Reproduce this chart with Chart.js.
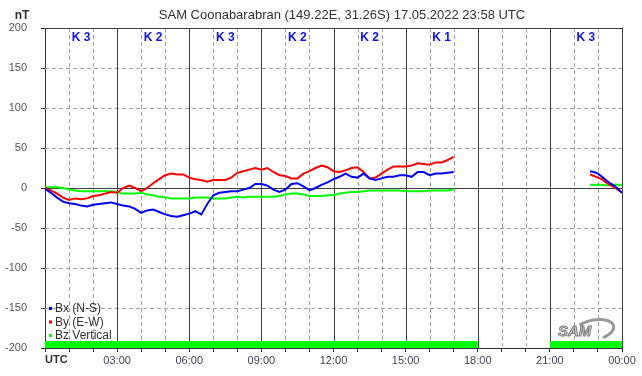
<!DOCTYPE html>
<html>
<head>
<meta charset="utf-8">
<script src="https://cdn.jsdelivr.net/npm/chart.js@4/dist/chart.umd.min.js"></script>
<style>
  html, body { margin: 0; padding: 0; background: #fff; }
  #wrap { width: 642px; height: 376px; }
</style>
</head>
<body>
<div id="wrap"><canvas id="chart" width="642" height="376"></canvas></div>
<script>
// hours UTC, first segment (00:00 - 17:00)
const hours1 = [0,0.25,0.5,0.75,1,1.25,1.5,1.75,2,2.25,2.5,2.75,3,3.25,3.5,3.75,4,4.25,4.5,4.75,5,5.25,5.5,5.75,6,6.25,6.5,6.75,7,7.25,7.5,7.75,8,8.25,8.5,8.75,9,9.25,9.5,9.75,10,10.25,10.5,10.75,11,11.25,11.5,11.75,12,12.25,12.5,12.75,13,13.25,13.5,13.75,14,14.25,14.5,14.75,15,15.25,15.5,15.75,16,16.25,16.5,16.75,17];
const bx1 = [-1,-6,-12,-17,-19,-20,-22,-23,-21,-20,-19,-18,-20,-22,-23,-26,-31,-28,-27,-30,-33,-35,-36,-34,-32,-29,-33,-20,-9,-6,-5,-4,-4,-2,0,5,5,3,-2,-5,-2,5,6,2,-3,0,4,7,11,14,18,14,13,18,12,10,12,14,14,16,16,14,20,20,16,18,18,19,20];
const by1 = [0,-3,-7,-12,-15,-13,-14,-13,-10,-9,-7,-5,-6,0,3,0,-4,0,6,11,16,18,17,17,13,11,10,8,10,10,10,13,19,21,23,25,23,25,20,16,15,12,12,18,21,25,28,26,21,20,22,25,26,20,12,13,18,23,27,27,27,28,31,30,29,32,32,35,39];
const bz1 = [1,1,1,0,-2,-3,-4,-4,-4,-4,-4,-4,-5,-7,-7,-7,-6,-8,-9,-11,-12,-13,-13,-13,-13,-12,-12,-12,-13,-13,-13,-12,-11,-12,-11,-11,-11,-11,-11,-10,-8,-7,-7,-8,-10,-10,-10,-9,-9,-7,-6,-5,-5,-4,-3,-3,-3,-3,-3,-3,-4,-4,-4,-4,-3,-3,-3,-3,-2];

// second segment (22:40 - 24:00)
const hours2 = [22.67,22.83,23,23.17,23.33,23.5,23.67,23.83,24];
const bx2 = [21,20,18,14,10,6,3,-1,-6];
const by2 = [17,15,13,11,7,4,1,-2,-6];
const bz2 = [4,4,4,4,3,4,4,4,4];

// data availability (hours)
const availStart = [0, 21];
const availEnd = [18, 24];

const kLabels = ['K 3','K 2','K 3','K 2','K 2','K 1','','K 3'];
const xLabels = ['UTC','03:00','06:00','09:00','12:00','15:00','18:00','21:00','00:00'];
const seriesNames = ['Bx (N-S)','By (E-W)','Bz Vertical'];
const seriesColors = ['#0000ff','#ff0000','#00ff00'];

function seg(h1, v1, h2, v2) {
  const pts = h1.map((h, i) => ({x: h, y: v1[i]}));
  pts.push({x: (h1[h1.length-1] + h2[0]) / 2, y: null});
  return pts.concat(h2.map((h, i) => ({x: h, y: v2[i]})));
}

const availData = [];
availStart.forEach((s, i) => {
  if (i > 0) availData.push({x: (availEnd[i-1] + s) / 2, y: null});
  availData.push({x: s, y: -195.6}, {x: availEnd[i], y: -195.6});
});

const gridPlugin = {
  id: 'grid',
  beforeDatasetsDraw(chart) {
    const {ctx, chartArea: a, scales: {x, y}} = chart;
    ctx.save();
    ctx.lineWidth = 1;
    // dashed
    ctx.strokeStyle = '#a0a0a0';
    ctx.setLineDash([4, 3]);
    for (let h = 1; h < 24; h++) {
      if (h % 3 === 0) continue;
      const px = Math.round(x.getPixelForValue(h)) + 0.5;
      ctx.beginPath(); ctx.moveTo(px, a.top); ctx.lineTo(px, a.bottom); ctx.stroke();
    }
    for (let v = -150; v < 200; v += 50) {
      if (v === 0) continue;
      const py = Math.round(y.getPixelForValue(v)) + 0.5;
      ctx.beginPath(); ctx.moveTo(a.left, py); ctx.lineTo(a.right, py); ctx.stroke();
    }
    // solid
    ctx.setLineDash([]);
    ctx.strokeStyle = '#404040';
    for (let h = 3; h <= 24; h += 3) {
      const px = Math.round(x.getPixelForValue(h)) + 0.5;
      ctx.beginPath(); ctx.moveTo(px, a.top); ctx.lineTo(px, a.bottom); ctx.stroke();
    }
    [0, 200].forEach(v => {
      const py = Math.round(y.getPixelForValue(v)) + 0.5;
      ctx.beginPath(); ctx.moveTo(a.left, py); ctx.lineTo(a.right, py); ctx.stroke();
    });
    ctx.restore();
  },
  afterDraw(chart) {
    const {ctx, chartArea: a, scales: {x}} = chart;
    ctx.save();
    // title
    ctx.fillStyle = '#333';
    ctx.font = '13px "Liberation Sans", Arial, sans-serif';
    ctx.textAlign = 'center';
    ctx.textBaseline = 'middle';
    ctx.fillText('SAM Coonabarabran (149.22E, 31.26S) 17.05.2022 23:58 UTC', 342, 15);
    ctx.font = 'bold 12px "Liberation Sans", Arial, sans-serif';
    ctx.fillText('nT', 22, 16);
    // UTC label
    ctx.textAlign = 'left';
    ctx.font = 'bold 11px "Liberation Sans", Arial, sans-serif';
    ctx.fillStyle = '#333';
    ctx.fillText(xLabels[0], a.left, 360);
    // K indices
    ctx.textAlign = 'center';
    ctx.font = 'bold 12px "Liberation Sans", Arial, sans-serif';
    ctx.fillStyle = '#1010ff';
    kLabels.forEach((k, i) => {
      if (k) ctx.fillText(k, x.getPixelForValue(i * 3 + 1.5), 38);
    });
    // legend
    ctx.textAlign = 'left';
    ctx.font = '12px "Liberation Sans", Arial, sans-serif';
    seriesNames.forEach((n, i) => {
      const yy = 308 + i * 13.5;
      ctx.fillStyle = seriesColors[i];
      ctx.fillRect(49, yy - 1, 3, 3);
      ctx.fillStyle = '#333';
      ctx.fillText(n, 55, yy + 1);
    });
    // logo
    ctx.strokeStyle = '#9a9a9a';
    ctx.lineWidth = 3;
    ctx.beginPath();
    ctx.ellipse(594, 330, 20, 10, -0.2, -2.3, 1.2);
    ctx.stroke();
    ctx.font = 'italic bold 15px "Liberation Sans", Arial, sans-serif';
    ctx.fillStyle = '#d8d8d8';
    ctx.strokeStyle = '#7a7a7a';
    ctx.lineWidth = 1;
    ctx.fillText('SAM', 558, 332);
    ctx.strokeText('SAM', 558, 332);
    ctx.restore();
  }
};

new Chart(document.getElementById('chart'), {
  type: 'line',
  data: {
    datasets: [
      {label: 'avail', data: availData, borderColor: '#00ff00', borderWidth: 7, borderCapStyle: 'butt', pointRadius: 0, spanGaps: false},
      {label: seriesNames[0], data: seg(hours1, bx1, hours2, bx2), borderColor: seriesColors[0], borderWidth: 2, pointRadius: 0, spanGaps: false},
      {label: seriesNames[1], data: seg(hours1, by1, hours2, by2), borderColor: seriesColors[1], borderWidth: 2, pointRadius: 0, spanGaps: false},
      {label: seriesNames[2], data: seg(hours1, bz1, hours2, bz2), borderColor: seriesColors[2], borderWidth: 2, pointRadius: 0, spanGaps: false}
    ]
  },
  options: {
    responsive: false,
    animation: false,
    devicePixelRatio: 1,
    layout: {padding: {top: 28, right: 20, left: 0, bottom: 0}},
    plugins: {legend: {display: false}, tooltip: {enabled: false}},
    scales: {
      x: {
        type: 'linear', min: 0, max: 24,
        afterFit: s => { s.height = 28; },
        ticks: {
          stepSize: 1, autoSkip: false, maxRotation: 0, padding: 2,
          color: '#404060',
          font: {size: 11, family: '"Liberation Sans", Arial, sans-serif'},
          callback: v => (v % 3 === 0 && v > 0) ? xLabels[v / 3] : ''
        },
        grid: {drawOnChartArea: false, drawTicks: true, tickLength: 4, tickColor: '#333'},
        border: {display: true, color: '#333'}
      },
      y: {
        min: -200, max: 200,
        afterFit: s => { s.width = 45; },
        ticks: {
          stepSize: 50, padding: 14, color: '#555',
          font: {size: 11, family: '"Liberation Sans", Arial, sans-serif'}
        },
        grid: {drawOnChartArea: false, drawTicks: true, tickLength: 4, tickColor: '#333'},
        border: {display: true, color: '#333'}
      }
    }
  },
  plugins: [gridPlugin]
});
</script>
</body>
</html>
